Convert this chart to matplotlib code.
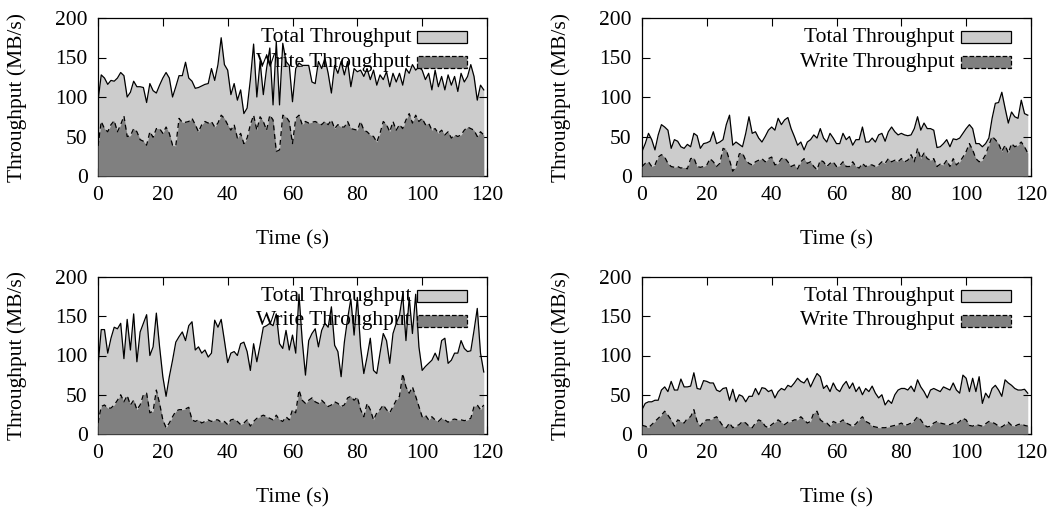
import matplotlib
matplotlib.use("Agg")
import matplotlib.pyplot as plt
import numpy as np
from matplotlib.patches import Rectangle

plt.rcParams['font.family'] = ['Liberation Serif', 'DejaVu Serif']
plt.rcParams['font.size'] = 15.5

seconds = np.arange(120)

# run A (top left)
total_a = [95, 128, 124, 116, 121, 120, 124, 131, 127, 100, 106, 120, 113, 113, 112, 93, 117, 108, 105, 115,
           124, 131, 124, 100, 113, 127, 127, 144, 124, 120, 111, 112, 114, 116, 117, 136, 121, 141, 175, 141,
           134, 103, 117, 96, 109, 79, 86, 122, 167, 100, 145, 103, 136, 162, 90, 170, 90, 168, 145, 140,
           94, 136, 143, 140, 140, 140, 119, 117, 145, 136, 149, 130, 105, 140, 130, 145, 128, 145, 113, 136,
           132, 134, 126, 136, 122, 134, 115, 128, 122, 132, 113, 130, 119, 130, 115, 136, 130, 141, 134, 138,
           134, 122, 130, 109, 134, 113, 126, 109, 128, 115, 126, 107, 130, 119, 126, 141, 126, 96, 115, 109]
write_a = [38, 69, 60, 56, 65, 70, 56, 65, 76, 50, 51, 60, 56, 46, 44, 39, 56, 49, 60, 60,
           54, 62, 54, 39, 38, 73, 68, 68, 69, 73, 65, 56, 65, 69, 67, 69, 62, 67, 77, 73,
           65, 58, 65, 48, 54, 41, 48, 65, 77, 58, 75, 69, 58, 77, 71, 31, 33, 77, 75, 69,
           41, 73, 77, 65, 69, 67, 68, 69, 67, 65, 69, 65, 71, 60, 65, 62, 62, 69, 60, 59,
           58, 69, 58, 56, 52, 50, 43, 54, 69, 65, 56, 69, 58, 65, 60, 71, 79, 67, 77, 69,
           73, 65, 67, 58, 60, 54, 58, 52, 56, 48, 52, 50, 52, 58, 62, 60, 58, 50, 56, 52]

# run B (top right)
total_b = [31, 41, 54, 46, 33, 52, 65, 62, 58, 35, 46, 44, 37, 35, 40, 37, 54, 51, 35, 41,
           42, 44, 56, 41, 43, 46, 65, 77, 39, 43, 40, 37, 54, 75, 54, 56, 48, 43, 50, 58,
           62, 58, 73, 65, 71, 74, 60, 50, 39, 43, 33, 43, 46, 52, 48, 60, 48, 43, 54, 48,
           41, 41, 54, 46, 50, 39, 46, 46, 62, 43, 43, 48, 43, 52, 54, 44, 56, 62, 56, 52,
           54, 52, 51, 52, 60, 75, 58, 67, 60, 60, 58, 36, 37, 41, 46, 37, 47, 46, 48, 54,
           60, 65, 60, 41, 41, 37, 41, 48, 73, 92, 93, 106, 86, 67, 81, 75, 73, 96, 79, 77]
write_b = [12, 16, 18, 12, 14, 24, 27, 24, 16, 12, 11, 12, 10, 11, 9, 22, 23, 12, 11, 12,
           14, 22, 18, 12, 16, 35, 33, 20, 6, 12, 28, 29, 20, 16, 14, 18, 20, 22, 18, 22,
           24, 14, 16, 22, 23, 18, 12, 14, 9, 18, 22, 16, 18, 12, 8, 20, 18, 12, 16, 18,
           12, 13, 18, 12, 12, 18, 12, 10, 16, 12, 14, 14, 12, 14, 18, 16, 22, 18, 20, 18,
           22, 18, 20, 27, 18, 35, 22, 29, 22, 20, 22, 12, 15, 14, 20, 12, 22, 14, 18, 24,
           31, 41, 33, 22, 18, 20, 27, 39, 50, 46, 41, 31, 39, 29, 41, 37, 39, 43, 37, 29]

# run C (bottom left)
total_c = [87, 133, 133, 103, 122, 136, 134, 141, 96, 146, 107, 153, 92, 130, 141, 152, 100, 111, 154, 111,
           73, 48, 73, 94, 117, 124, 130, 119, 138, 143, 107, 111, 103, 107, 98, 103, 145, 136, 146, 119,
           91, 103, 105, 100, 115, 117, 105, 81, 115, 92, 113, 136, 138, 141, 138, 153, 115, 109, 132, 107,
           126, 103, 178, 119, 75, 119, 128, 134, 111, 132, 141, 136, 162, 113, 105, 73, 117, 147, 172, 126,
           174, 111, 77, 98, 122, 81, 77, 103, 128, 119, 90, 128, 141, 151, 178, 119, 174, 128, 178, 111,
           81, 86, 90, 94, 103, 94, 119, 122, 90, 94, 103, 103, 119, 109, 105, 106, 132, 160, 103, 79]
write_c = [14, 35, 37, 33, 33, 37, 43, 50, 41, 49, 37, 43, 31, 37, 50, 52, 27, 29, 56, 39,
           18, 8, 14, 22, 29, 31, 31, 32, 34, 18, 16, 18, 14, 16, 18, 16, 18, 18, 15, 16,
           12, 18, 19, 16, 12, 14, 18, 10, 16, 20, 22, 24, 22, 20, 18, 24, 18, 16, 22, 18,
           31, 27, 56, 43, 39, 43, 46, 41, 39, 43, 39, 35, 37, 41, 39, 35, 37, 46, 48, 43,
           47, 31, 22, 39, 31, 18, 27, 31, 37, 31, 27, 35, 43, 48, 77, 60, 52, 60, 48, 35,
           22, 24, 18, 22, 18, 16, 20, 18, 15, 18, 19, 18, 18, 17, 18, 20, 35, 37, 31, 37]

# run D (bottom right)
total_d = [31, 39, 41, 41, 43, 43, 56, 60, 54, 67, 56, 56, 70, 60, 60, 61, 78, 58, 57, 68,
           67, 65, 65, 56, 54, 58, 59, 43, 57, 41, 50, 48, 41, 48, 48, 58, 50, 59, 58, 54,
           56, 46, 54, 58, 56, 62, 60, 65, 71, 67, 65, 71, 60, 69, 77, 73, 58, 62, 54, 65,
           57, 54, 62, 67, 58, 65, 54, 60, 50, 58, 54, 61, 52, 46, 50, 37, 43, 39, 50, 56,
           58, 58, 56, 61, 54, 69, 60, 54, 46, 56, 58, 56, 54, 60, 58, 56, 65, 56, 52, 75,
           71, 54, 71, 54, 73, 39, 52, 46, 58, 62, 56, 48, 69, 65, 62, 58, 56, 56, 57, 52]
write_d = [11, 10, 8, 12, 16, 20, 24, 29, 24, 18, 10, 18, 16, 14, 20, 22, 31, 16, 10, 16,
           18, 18, 20, 22, 16, 10, 8, 14, 8, 10, 12, 16, 14, 10, 8, 14, 18, 16, 10, 8,
           12, 15, 18, 15, 12, 15, 16, 18, 18, 22, 18, 14, 16, 27, 29, 18, 15, 14, 10, 16,
           14, 15, 18, 14, 12, 10, 13, 18, 22, 16, 14, 10, 9, 8, 8, 8, 9, 10, 11, 12,
           14, 11, 12, 14, 17, 22, 18, 12, 9, 10, 14, 16, 14, 13, 12, 12, 14, 13, 16, 20,
           18, 11, 10, 12, 11, 10, 13, 16, 15, 13, 10, 9, 12, 15, 11, 10, 12, 13, 11, 10]

x_ticks = [0, 20, 40, 60, 80, 100, 120]
y_ticks = [0, 50, 100, 150, 200]
labels = ["Total Throughput", "Write Throughput"]

LIGHT = '#cccccc'
DARK = '#808080'

W, H = 1053, 512
fig = plt.figure(figsize=(W / 100, H / 100), dpi=100)

# axes boxes in pixels: left, top, width, height
boxes = [(98, 18, 389, 158), (642, 18, 389, 158),
         (98, 277, 389, 157), (642, 277, 389, 157)]
runs = [(total_a, write_a), (total_b, write_b), (total_c, write_c), (total_d, write_d)]

for (l, t, w, h), (total, write) in zip(boxes, runs):
    ax = fig.add_axes([l / W, 1 - (t + h) / H, w / W, h / H])
    ax.fill_between(seconds, total, color=LIGHT, lw=0, zorder=1)
    ax.plot(seconds, total, color='black', lw=0.9, zorder=2)
    ax.fill_between(seconds, write, color=DARK, lw=0, zorder=3)
    ax.plot(seconds, write, color='black', lw=0.9, dashes=(4, 3), zorder=4)

    ax.set_xlim(0, 120)
    ax.set_ylim(0, 200)
    ax.set_xticks(x_ticks)
    ax.set_yticks(y_ticks)
    ax.tick_params(direction='in', length=6, width=0.8, top=True, right=True, pad=7.5)
    for s in ax.spines.values():
        s.set_linewidth(0.9)

    ax.set_xlabel("Time (s)")
    ax.set_ylabel("Throughput (MB/s)")
    ax.xaxis.set_label_coords(0.5, -0.345)
    ax.yaxis.set_label_coords(-0.183, 0.5)

    # key: right-aligned text with a swatch after it (offsets in px from the top)
    key_rows = [(labels[0], LIGHT, '-', 1 - 19.5 / h, 1 - 25.3 / h),
                (labels[1], DARK, '--', 1 - 44 / h, 1 - 50.3 / h)]
    for text, col, ls, ty, ry in key_rows:
        ax.text(1 - 76 / w, ty, text, transform=ax.transAxes, ha='right', va='center', zorder=6)
        ax.add_patch(Rectangle((1 - 70 / w, ry), 50 / w, 12 / h, transform=ax.transAxes,
                               facecolor=col, edgecolor='black', lw=0.9, linestyle=ls,
                               zorder=6))

fig.savefig("out.png", dpi=100)
